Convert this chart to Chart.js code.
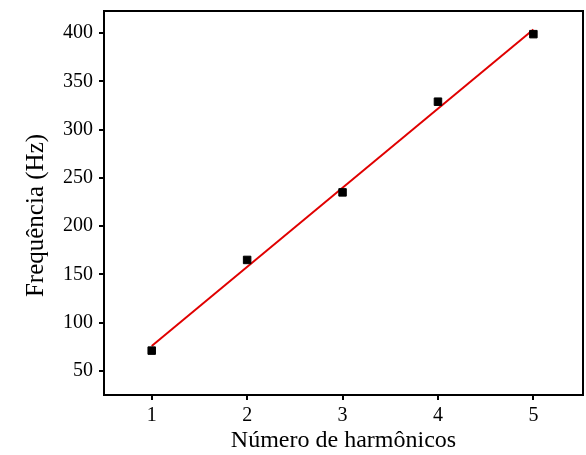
<!DOCTYPE html>
<html>
<head>
<meta charset="utf-8">
<script src="https://cdn.jsdelivr.net/npm/chart.js@4"></script>
<style>
html,body{margin:0;padding:0;background:#fff;}
#wrap{width:586px;height:455px;}
</style>
</head>
<body>
<div id="wrap"><canvas id="c" width="586" height="455"></canvas></div>
<script>
const harmonics = [1, 2, 3, 4, 5];
const frequencies = [71, 165, 235, 329, 399];
const fitX = [1, 5];
const fitY = [75.8, 403.8];
const xTicks = [1, 2, 3, 4, 5];
const yTicks = [50, 100, 150, 200, 250, 300, 350, 400];

const pts = harmonics.map((h, i) => ({x: h, y: frequencies[i]}));
const fit = fitX.map((x, i) => ({x: x, y: fitY[i]}));

const frame = {
  id: 'frame',
  afterDatasetsDraw(chart) {
    const a = chart.chartArea, ctx = chart.ctx;
    ctx.save();
    ctx.strokeStyle = '#000';
    ctx.lineWidth = 2;
    ctx.strokeRect(a.left, a.top, a.right - a.left, a.bottom - a.top);
    ctx.restore();
  }
};

const serif = '"Liberation Serif", "Times New Roman", serif';

new Chart(document.getElementById('c'), {
  type: 'scatter',
  data: {
    datasets: [
      {
        type: 'scatter',
        data: pts,
        pointStyle: 'rect',
        pointRadius: 5.3,
        borderWidth: 1,
        backgroundColor: '#000',
        borderColor: '#000',
        order: 1
      },
      {
        type: 'line',
        data: fit,
        borderColor: '#e00000',
        borderWidth: 2,
        pointRadius: 0,
        fill: false,
        order: 2
      }
    ]
  },
  options: {
    responsive: false,
    animation: false,
    events: [],
    layout: {autoPadding: false, padding: {top: 11, right: 3, left: 0, bottom: 0}},
    plugins: {legend: {display: false}, tooltip: {enabled: false}},
    scales: {
      x: {
        type: 'linear',
        min: 0.5,
        max: 5.52,
        afterBuildTicks: s => { s.ticks = xTicks.map(v => ({value: v})); },
        afterFit: s => { s.height = 60; s.paddingLeft = 0; s.paddingRight = 0; },
        grid: {drawOnChartArea: false, drawTicks: true, tickLength: 5, color: '#000', lineWidth: 2},
        border: {display: true, color: '#000', width: 2},
        ticks: {color: '#000', padding: 4, font: {family: serif, size: 20}},
        title: {display: true, text: 'Número de harmônicos', color: '#000', padding: {top: 0, bottom: 0}, font: {family: serif, size: 24}}
      },
      y: {
        type: 'linear',
        min: 25,
        max: 423,
        afterBuildTicks: s => { s.ticks = yTicks.map(v => ({value: v})); },
        afterFit: s => { s.width = 104; s.paddingTop = 0; s.paddingBottom = 0; },
        grid: {drawOnChartArea: false, drawTicks: true, tickLength: 5, color: '#000', lineWidth: 2},
        border: {display: true, color: '#000', width: 2},
        ticks: {color: '#000', padding: 6, font: {family: serif, size: 20}},
        title: {display: true, text: 'Frequência (Hz)    ', color: '#000', padding: {top: 21, bottom: 0}, font: {family: serif, size: 25}}
      }
    }
  },
  plugins: [frame]
});
</script>
</body>
</html>
